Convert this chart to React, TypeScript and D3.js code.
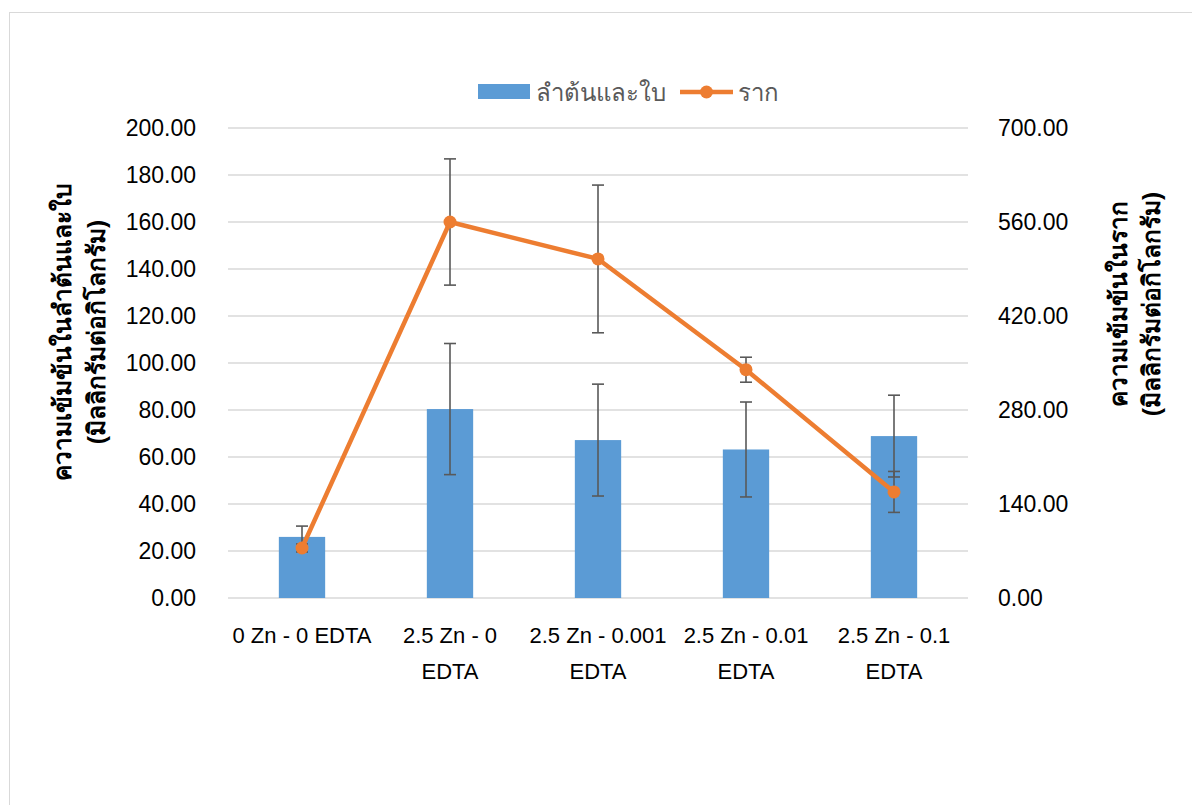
import React from "react";
import * as d3 from "d3";

const categories: string[][] = [
  ["0 Zn - 0 EDTA"],
  ["2.5 Zn - 0", "EDTA"],
  ["2.5 Zn - 0.001", "EDTA"],
  ["2.5 Zn - 0.01", "EDTA"],
  ["2.5 Zn - 0.1", "EDTA"],
];
const shootValues = [26.0, 80.4, 67.2, 63.2, 68.9];
const shootErrors = [4.6, 27.9, 23.8, 20.2, 17.4];
const rootValues = [74.5, 560, 505, 340, 158];
const rootErrors = [6, 94, 110, 18.6, 30.5];
const leftTicks = [0, 20, 40, 60, 80, 100, 120, 140, 160, 180, 200];
const rightTicks = [0, 140, 280, 420, 560, 700];
const seriesNames = ["ลำต้นและใบ", "ราก"];
const leftTitle = ["ความเข้มข้นในลำต้นและใบ", "(มิลลิกรัมต่อกิโลกรัม)"];
const rightTitle = ["ความเข้มข้นในราก", "(มิลลิกรัมต่อกิโลกรัม)"];

const W = 1192;
const H = 805;
const plot = { left: 228, right: 968, top: 128, bottom: 598 };
const BLUE = "#5B9BD5";
const ORANGE = "#ED7D31";
const ERR = "#595959";
const FONT = "'Liberation Sans', Arial, sans-serif";

export default function App() {
  const idx = categories.map((_, i) => String(i));
  const x = d3.scaleBand<string>().domain(idx).range([plot.left, plot.right]).paddingInner(0).paddingOuter(0);
  const yL = d3.scaleLinear().domain([0, 200]).range([plot.bottom, plot.top]);
  const yR = d3.scaleLinear().domain([0, 700]).range([plot.bottom, plot.top]);
  const bw = x.bandwidth() * 0.313;
  const cx = (i: number) => (x(String(i)) as number) + x.bandwidth() / 2;
  const line = d3
    .line<number>()
    .x((_, i) => cx(i))
    .y((d) => yR(d));
  const cap = 6;

  const errBar = (xc: number, y1: number, y2: number, key: string) => (
    <g key={key} stroke={ERR} strokeWidth={1.6}>
      <line x1={xc} x2={xc} y1={y1} y2={y2} />
      <line x1={xc - cap} x2={xc + cap} y1={y1} y2={y1} />
      <line x1={xc - cap} x2={xc + cap} y1={y2} y2={y2} />
    </g>
  );

  return (
    <svg width={W} height={H} style={{ position: "absolute", left: 0, top: 0, display: "block" }}>
      <rect x={0} y={0} width={W} height={H} fill="#ffffff" />
      <rect x={9.5} y={12.5} width={1200} height={800} fill="none" stroke="#d9d9d9" strokeWidth={1} />
      {leftTicks.map((t) => (
        <line key={"g" + t} x1={plot.left} x2={plot.right} y1={yL(t)} y2={yL(t)} stroke="#d9d9d9" strokeWidth={1.6} />
      ))}
      {leftTicks.map((t) => (
        <text key={"lt" + t} x={196} y={yL(t)} dy="0.36em" textAnchor="end" fontFamily={FONT} fontSize={23} fill="#000">
          {t.toFixed(2)}
        </text>
      ))}
      {rightTicks.map((t) => (
        <text key={"rt" + t} x={998} y={yR(t)} dy="0.36em" textAnchor="start" fontFamily={FONT} fontSize={23} fill="#000">
          {t.toFixed(2)}
        </text>
      ))}
      {categories.map((c, i) =>
        c.map((s, j) => (
          <text key={"c" + i + j} x={cx(i)} y={643 + j * 36} textAnchor="middle" fontFamily={FONT} fontSize={22} fill="#000">
            {s}
          </text>
        ))
      )}
      {shootValues.map((v, i) => (
        <rect key={"b" + i} x={cx(i) - bw / 2} y={yL(v)} width={bw} height={yL(0) - yL(v)} fill={BLUE} />
      ))}
      {shootValues.map((v, i) => errBar(cx(i), yL(v + shootErrors[i]), yL(v - shootErrors[i]), "be" + i))}
      {rootValues.map((v, i) => errBar(cx(i), yR(v + rootErrors[i]), yR(v - rootErrors[i]), "re" + i))}
      <path d={line(rootValues) || ""} fill="none" stroke={ORANGE} strokeWidth={4.5} strokeLinejoin="round" />
      {rootValues.map((v, i) => (
        <circle key={"m" + i} cx={cx(i)} cy={yR(v)} r={6.5} fill={ORANGE} />
      ))}
      {/* axis titles */}
      {leftTitle.map((s, j) => (
        <text
          key={"lt" + j}
          transform={`translate(${62 + j * 34},332) rotate(-90)`}
          textAnchor="middle"
          dominantBaseline="central"
          fontFamily={FONT}
          fontWeight="bold"
          fontSize={24.5}
          fill="#000"
        >
          {s}
        </text>
      ))}
      {rightTitle.map((s, j) => (
        <text
          key={"rtt" + j}
          transform={`translate(${1118 + j * 33},304) rotate(-90)`}
          textAnchor="middle"
          dominantBaseline="central"
          fontFamily={FONT}
          fontWeight="bold"
          fontSize={24.5}
          fill="#000"
        >
          {s}
        </text>
      ))}
      {/* legend */}
      <rect x={478} y={84} width={52} height={15} fill={BLUE} />
      <text x={536} y={92} dy="0.36em" fontFamily={FONT} fontSize={24} fill="#595959">
        {seriesNames[0]}
      </text>
      <line x1={680} x2={733} y1={92} y2={92} stroke={ORANGE} strokeWidth={4.5} />
      <circle cx={706.5} cy={92} r={6.5} fill={ORANGE} />
      <text x={738} y={92} dy="0.36em" fontFamily={FONT} fontSize={24} fill="#595959">
        {seriesNames[1]}
      </text>
    </svg>
  );
}
